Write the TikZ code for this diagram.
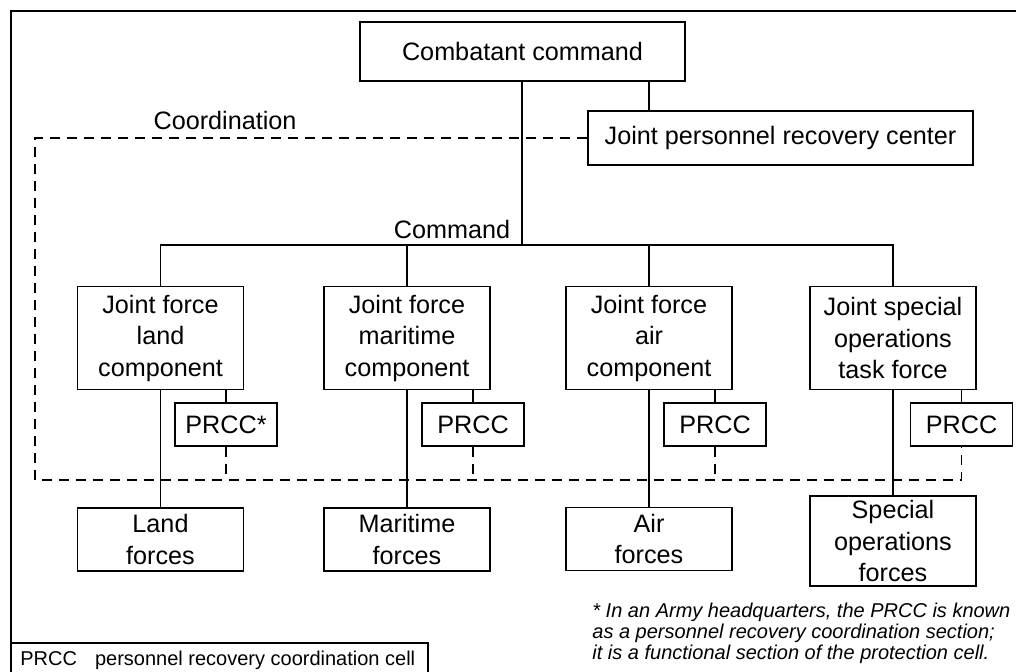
\documentclass[tikz,border=0pt]{standalone}
\usepackage{fontspec}
\setmainfont{Liberation Sans}
\newcommand{\mainsz}{\fontsize{12.6}{15.75}\selectfont}
\newcommand{\smallsz}{\fontsize{10}{10.5}\selectfont}
\begin{document}
\begin{tikzpicture}[x=0.5pt,y=-0.5pt,
  ln/.style={line width=0.9pt},
  box/.style={draw, ln, inner sep=0pt, align=center, font=\mainsz},
  comp/.style={box, minimum width=83pt, minimum height=51.5pt},
  prccbox/.style={box, minimum width=51pt, minimum height=21.5pt},
  forcebox/.style={box, minimum width=83pt, minimum height=31.5pt},
  coordline/.style={line width=0.9pt, dash pattern=on 5pt off 3.5pt},
  lbl/.style={inner sep=0pt, font=\mainsz},
  note/.style={inner sep=0pt, font=\smallsz\itshape, anchor=base west}]
\useasboundingbox (0,0) rectangle (1016,671);
\clip (0,0) rectangle (1016,671);
\fill[white] (0,0) rectangle (1016,671);
% outer frame
\draw[line width=1.3pt] (11,700) -- (11,11) -- (1030,11);
% nodes
\node[box, minimum width=162.5pt, minimum height=29.5pt] (cc) at (522.5,51.5) {Combatant command};
\node[box, minimum width=192.5pt, minimum height=27pt] (jprc) at (780.5,138) {Joint personnel recovery center};
\node[comp] (jfl) at (160.5,338) {Joint force\\land\\component};
\node[comp] (jfm) at (407,338) {Joint force\\maritime\\component};
\node[comp] (jfa) at (649,338) {Joint force\\air\\component};
\node[comp] (jso) at (893,338) {Joint special\\operations\\task force};
\node[prccbox] (pl) at (226,424.5) {PRCC*};
\node[prccbox] (pm) at (473,424.5) {PRCC};
\node[prccbox] (pa) at (715,424.5) {PRCC};
\node[prccbox] (ps) at (961.5,424.5) {PRCC};
\node[forcebox] (fl) at (160.5,539.5) {Land\\forces};
\node[forcebox] (fm) at (407,539.5) {Maritime\\forces};
\node[forcebox] (fa) at (649,539) {Air\\forces};
\node[forcebox, minimum height=45pt] (fs) at (893,541) {Special\\operations\\forces};
\node[lbl] (coordlbl) at (225,120) {Coordination};
\node[lbl] (cmdlbl) at (452,229) {Command};
% coordinates
\coordinate (busc) at (522,245);
\coordinate (cj) at (649,81);
\coordinate (ctl) at (35,138);
\coordinate (cbl) at (35,480);
% command lines
\draw[ln] (cc.south -| busc) -- (busc);
\draw[ln] (jfl.north) -- (jfl.north |- busc) -- (jso.north |- busc) -- (jso.north);
\draw[ln] (jfm.north) -- (jfm.north |- busc);
\draw[ln] (jfa.north) -- (jfa.north |- busc);
\draw[ln] (cj) -- (cj |- jprc.north);
\foreach \c/\p/\f in {jfl/pl/fl, jfm/pm/fm, jfa/pa/fa, jso/ps/fs}{
  \draw[ln] (\p.north) -- (\p.north |- \c.south);
  \draw[ln] (\c.south) -- (\f.north);
}
% coordination lines
\draw[coordline] (jprc.west) -- (ctl) -- (cbl) -- (cbl -| ps.south) -- (ps.south);
\foreach \p in {pl, pm, pa}{
  \draw[coordline] (\p.south) -- (\p.south |- cbl);
}
% legend
\draw[ln] (11,643) -- (428,643) -- (428,690);
\node[inner sep=0pt, anchor=west, font=\smallsz] (legend) at (20,660) {PRCC\hspace*{9pt}personnel recovery coordination cell};
% footnote
\node[note] (fn1) at (592,617) {* In an Army headquarters, the PRCC is known};
\node[note] (fn2) at (592,638) {as a personnel recovery coordination section;};
\node[note] (fn3) at (592,659) {it is a functional section of the protection cell.};
\end{tikzpicture}
\end{document}
